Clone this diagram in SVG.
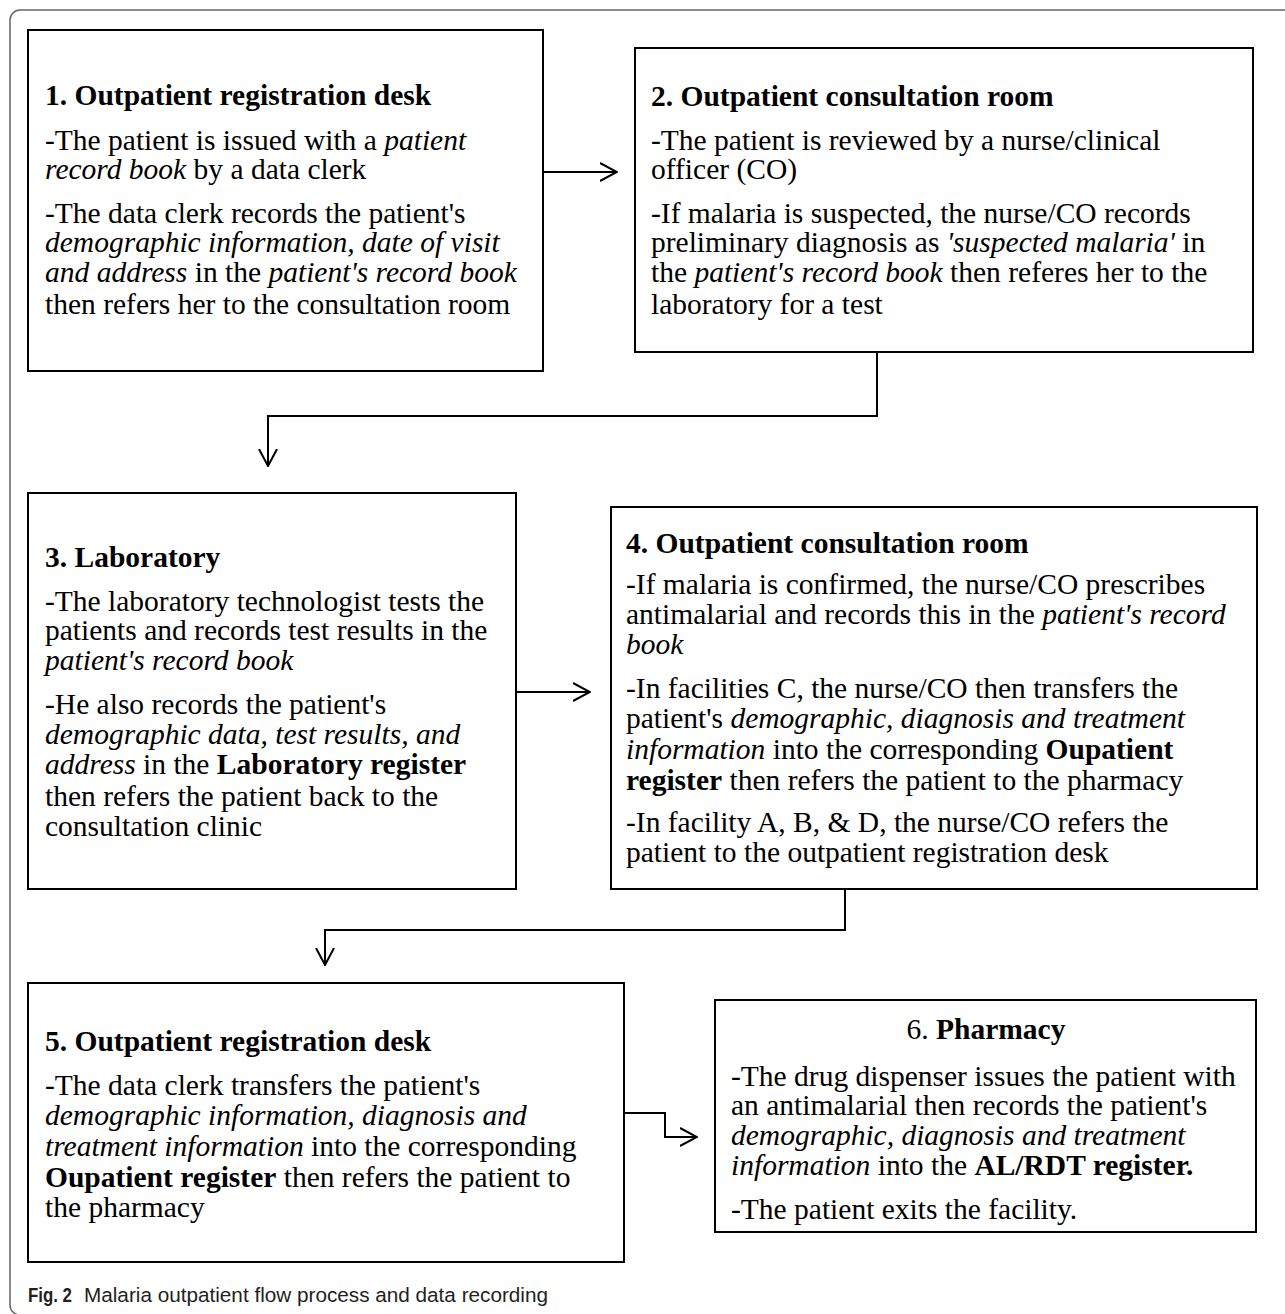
<svg xmlns="http://www.w3.org/2000/svg" width="1285" height="1314" viewBox="0 0 1285 1314">
<defs>
<style>
.box{fill:#fff;stroke:#000;stroke-width:2}
.t{font-family:"Liberation Serif","Times New Roman",serif;font-size:29.5px;fill:#000}
.b{font-weight:bold}
.i{font-style:italic}
.conn{fill:none;stroke:#000;stroke-width:2}
.cap{font-family:"Liberation Sans",Arial,sans-serif;font-size:20.5px;fill:#231f20}
</style>
<marker id="ah" viewBox="0 0 18 20" refX="17" refY="10" markerWidth="18" markerHeight="20" markerUnits="userSpaceOnUse" orient="auto">
<path d="M0,1 L17,10 L0,19" fill="none" stroke="#000" stroke-width="2"/>
</marker>
</defs>
<rect width="1285" height="1314" fill="#fff"/>
<path d="M1285,10 H20 A10,10 0 0 0 10,20 V1305 A10,10 0 0 0 20,1315" fill="none" stroke="#666" stroke-width="1.5"/>

<g id="node1">
<rect class="box" x="28" y="30" width="515" height="341"/>
<text class="t" x="45" y="105"><tspan class="b">1. Outpatient registration desk</tspan></text>
<text class="t" x="45" y="150">-The patient is issued with a <tspan class="i">patient</tspan></text>
<text class="t" x="45" y="179"><tspan class="i">record book</tspan> by a data clerk</text>
<text class="t" x="45" y="223">-The data clerk records the patient's</text>
<text class="t" x="45" y="252"><tspan class="i">demographic information, date of visit</tspan></text>
<text class="t" x="45" y="282"><tspan class="i">and address</tspan> in the <tspan class="i">patient's record book</tspan></text>
<text class="t" x="45" y="314">then refers her to the consultation room</text>
</g>

<g id="node2">
<rect class="box" x="635" y="48" width="618" height="304"/>
<text class="t" x="651" y="106"><tspan class="b">2. Outpatient consultation room</tspan></text>
<text class="t" x="651" y="150">-The patient is reviewed by a nurse/clinical</text>
<text class="t" x="651" y="179">officer (CO)</text>
<text class="t" x="651" y="223">-If malaria is suspected, the nurse/CO records</text>
<text class="t" x="651" y="252">preliminary diagnosis as <tspan class="i">'suspected malaria'</tspan> in</text>
<text class="t" x="651" y="282">the <tspan class="i">patient's record book</tspan> then referes her to the</text>
<text class="t" x="651" y="314">laboratory for a test</text>
</g>

<g id="node3">
<rect class="box" x="28" y="493" width="488" height="396"/>
<text class="t" x="45" y="567"><tspan class="b">3. Laboratory</tspan></text>
<text class="t" x="45" y="611">-The laboratory technologist tests the</text>
<text class="t" x="45" y="640">patients and records test results in the</text>
<text class="t" x="45" y="670"><tspan class="i">patient's record book</tspan></text>
<text class="t" x="45" y="714">-He also records the patient's</text>
<text class="t" x="45" y="744"><tspan class="i">demographic data, test results, and</tspan></text>
<text class="t" x="45" y="774"><tspan class="i">address</tspan> in the <tspan class="b">Laboratory register</tspan></text>
<text class="t" x="45" y="806">then refers the patient back to the</text>
<text class="t" x="45" y="836">consultation clinic</text>
</g>

<g id="node4">
<rect class="box" x="611" y="507" width="646" height="382"/>
<text class="t" x="626" y="553"><tspan class="b">4. Outpatient consultation room</tspan></text>
<text class="t" x="626" y="594">-If malaria is confirmed, the nurse/CO prescribes</text>
<text class="t" x="626" y="624">antimalarial and records this in the <tspan class="i">patient's record</tspan></text>
<text class="t" x="626" y="654"><tspan class="i">book</tspan></text>
<text class="t" x="626" y="698">-In facilities C, the nurse/CO then transfers the</text>
<text class="t" x="626" y="728">patient's <tspan class="i">demographic, diagnosis and treatment</tspan></text>
<text class="t" x="626" y="759"><tspan class="i">information</tspan> into the corresponding <tspan class="b">Oupatient</tspan></text>
<text class="t" x="626" y="790"><tspan class="b">register</tspan> then refers the patient to the pharmacy</text>
<text class="t" x="626" y="832">-In facility A, B, &amp; D, the nurse/CO refers the</text>
<text class="t" x="626" y="862">patient to the outpatient registration desk</text>
</g>

<g id="node5">
<rect class="box" x="28" y="983" width="596" height="279"/>
<text class="t" x="45" y="1051"><tspan class="b">5. Outpatient registration desk</tspan></text>
<text class="t" x="45" y="1095">-The data clerk transfers the patient's</text>
<text class="t" x="45" y="1125"><tspan class="i">demographic information, diagnosis and</tspan></text>
<text class="t" x="45" y="1156"><tspan class="i">treatment information</tspan> into the corresponding</text>
<text class="t" x="45" y="1187"><tspan class="b">Oupatient register</tspan> then refers the patient to</text>
<text class="t" x="45" y="1217">the pharmacy</text>
</g>

<g id="node6">
<rect class="box" x="715" y="1000" width="541" height="232"/>
<text class="t" x="986" y="1039" text-anchor="middle">6. <tspan class="b">Pharmacy</tspan></text>
<text class="t" x="731" y="1086">-The drug dispenser issues the patient with</text>
<text class="t" x="731" y="1115">an antimalarial then records the patient's</text>
<text class="t" x="731" y="1145"><tspan class="i">demographic, diagnosis and treatment</tspan></text>
<text class="t" x="731" y="1175"><tspan class="i">information</tspan> into the <tspan class="b">AL/RDT register.</tspan></text>
<text class="t" x="731" y="1219">-The patient exits the facility.</text>
</g>

<g id="connectors">
<path class="conn" d="M543,172 H617" marker-end="url(#ah)"/>
<path class="conn" d="M877,352 V416 H268 V466" marker-end="url(#ah)"/>
<path class="conn" d="M516,692 H590" marker-end="url(#ah)"/>
<path class="conn" d="M845,889 V930 H325 V965" marker-end="url(#ah)"/>
<path class="conn" d="M624,1113 H665 V1137 H697" marker-end="url(#ah)"/>
</g>

<text class="cap" x="28" y="1302"><tspan font-weight="bold" textLength="44" lengthAdjust="spacingAndGlyphs">Fig. 2</tspan><tspan x="84" textLength="464" lengthAdjust="spacingAndGlyphs">Malaria outpatient flow process and data recording</tspan></text>
</svg>
